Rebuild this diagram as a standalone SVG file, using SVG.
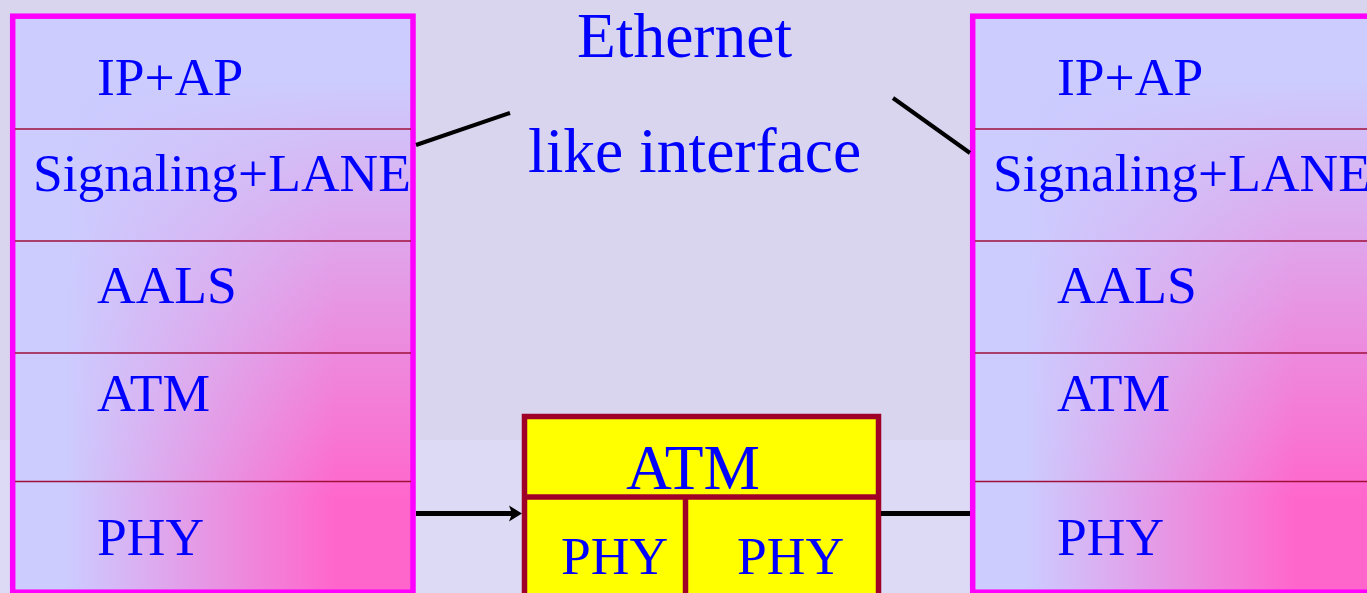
<svg xmlns="http://www.w3.org/2000/svg" width="1367" height="593" viewBox="0 0 1367 593">
  <style>
    .lbl { font-family: "Liberation Serif", "Times New Roman", serif; fill: #0000ff; }
    .s53 { font-size: 53.5px; }
    .s63 { font-size: 63.5px; }
    .fillH { fill: url(#gradH); }
    .fillV { fill: url(#gradV); }
    .frame { fill: none; stroke: #ff00ff; stroke-width: 5.5; }
    .div { stroke: #a0103a; stroke-width: 1.6; }
    .ybox { fill: #ffff00; stroke: #a00028; stroke-width: 5.5; }
    .ydiv { stroke: #a00028; stroke-width: 5.5; }
    .conn { stroke: #000000; fill: none; }
  </style>
  <defs>
    <linearGradient id="gradH" gradientUnits="userSpaceOnUse" x1="65" y1="0" x2="335" y2="0">
      <stop offset="0" stop-color="#ccccff"/>
      <stop offset="1" stop-color="#ff66cc"/>
    </linearGradient>
    <linearGradient id="gradV" gradientUnits="userSpaceOnUse" x1="0" y1="80" x2="0" y2="500">
      <stop offset="0" stop-color="#ccccff" stop-opacity="1"/>
      <stop offset="1" stop-color="#ccccff" stop-opacity="0"/>
    </linearGradient>
    <marker id="arrow" markerUnits="userSpaceOnUse" markerWidth="14" markerHeight="18" refX="13" refY="9" orient="auto">
      <path d="M0,1 L13,9 L0,17 L3,9 Z" fill="#000000"/>
    </marker>
  </defs>

  <!-- background -->
  <rect x="0" y="0" width="1367" height="593" fill="#dddaf6"/>
  <rect x="0" y="0" width="1367" height="440" fill="#d9d5ef"/>

  <!-- left stack -->
  <g id="left-stack">
    <rect class="fillH" x="12.7" y="16.2" width="400.3" height="576"/>
    <rect class="fillV" x="12.7" y="16.2" width="400.3" height="576"/>
    <rect class="frame" x="12.7" y="16.2" width="400.3" height="576"/>
    <line class="div" x1="15" y1="129" x2="411" y2="129"/>
    <line class="div" x1="15" y1="241" x2="411" y2="241"/>
    <line class="div" x1="15" y1="353" x2="411" y2="353"/>
    <line class="div" x1="15" y1="481.5" x2="411" y2="481.5"/>
    <text class="lbl s53" x="97" y="95">IP+AP</text>
    <text class="lbl s53" x="33" y="191">Signaling+LANE</text>
    <text class="lbl s53" x="97" y="303">AALS</text>
    <text class="lbl s53" x="97" y="411">ATM</text>
    <text class="lbl s53" x="97" y="555">PHY</text>
  </g>

  <!-- right stack -->
  <g id="right-stack" transform="translate(960,0)">
    <rect class="fillH" x="12.7" y="16.2" width="400.3" height="576"/>
    <rect class="fillV" x="12.7" y="16.2" width="400.3" height="576"/>
    <rect class="frame" x="12.7" y="16.2" width="400.3" height="576"/>
    <line class="div" x1="15" y1="129" x2="411" y2="129"/>
    <line class="div" x1="15" y1="241" x2="411" y2="241"/>
    <line class="div" x1="15" y1="353" x2="411" y2="353"/>
    <line class="div" x1="15" y1="481.5" x2="411" y2="481.5"/>
    <text class="lbl s53" x="97" y="95">IP+AP</text>
    <text class="lbl s53" x="33" y="191">Signaling+LANE</text>
    <text class="lbl s53" x="97" y="303">AALS</text>
    <text class="lbl s53" x="97" y="411">ATM</text>
    <text class="lbl s53" x="97" y="555">PHY</text>
  </g>

  <!-- ATM switch -->
  <g id="atm-switch">
    <rect class="ybox" x="524.5" y="416.5" width="354" height="190"/>
    <line class="ydiv" x1="524.5" y1="497" x2="878.5" y2="497"/>
    <line class="ydiv" x1="685.5" y1="497" x2="685.5" y2="600"/>
    <text class="lbl s63" x="626" y="489">ATM</text>
    <text class="lbl s53" x="561" y="574">PHY</text>
    <text class="lbl s53" x="737" y="574">PHY</text>
  </g>

  <!-- label -->
  <g id="ethernet-label">
    <text class="lbl s63" x="577" y="57">Ethernet</text>
    <text class="lbl s63" x="528" y="172">like interface</text>
  </g>

  <!-- connectors -->
  <g id="connectors">
    <line class="conn" x1="416" y1="513.5" x2="514" y2="513.5" stroke-width="5"/>
    <line class="conn" x1="509" y1="513.5" x2="522" y2="513.5" stroke-width="0.1" marker-end="url(#arrow)"/>
    <line class="conn" x1="881" y1="513.5" x2="970" y2="513.5" stroke-width="5"/>
    <line class="conn" x1="416" y1="145" x2="510" y2="113" stroke-width="4"/>
    <line class="conn" x1="893" y1="98" x2="970" y2="153" stroke-width="4"/>
  </g>
</svg>
